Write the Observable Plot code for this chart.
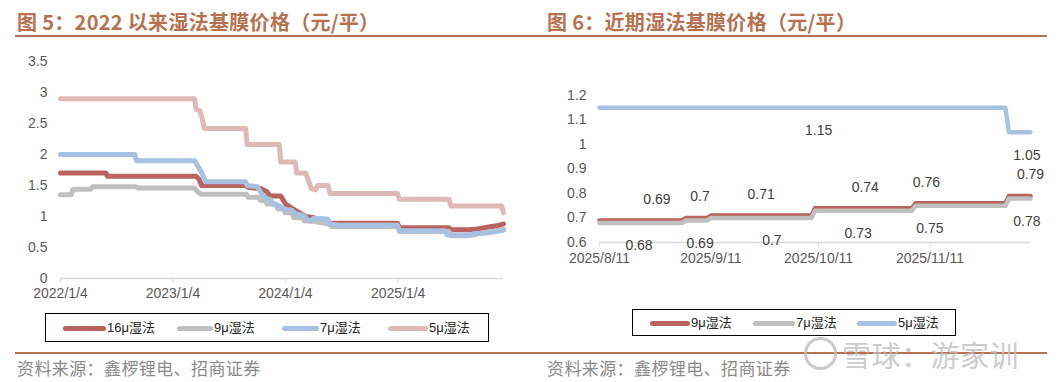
<!DOCTYPE html>
<html><head><meta charset="utf-8">
<script src="https://cdn.jsdelivr.net/npm/d3@7"></script>
<script src="https://cdn.jsdelivr.net/npm/@observablehq/plot@0.6"></script>
<style>
body{margin:0;background:#fff;}
#page{position:relative;width:1064px;height:382px;overflow:hidden;font-family:"Liberation Sans",Arial,"Noto Sans CJK SC",sans-serif;background:#fff;}
.title{position:absolute;top:8px;font-family:"Noto Sans CJK SC",sans-serif;font-weight:700;font-size:20px;color:#B8714F;white-space:nowrap;line-height:28px;letter-spacing:0.3px;}
.rule{position:absolute;left:15px;width:1032px;height:2px;background:#B8714F;}
.src{position:absolute;top:357px;font-family:"Noto Sans CJK SC",sans-serif;font-size:17px;color:#8a8a8a;line-height:22px;white-space:nowrap;letter-spacing:0.4px;}
.legend{position:absolute;border:1.5px solid #000;box-sizing:border-box;}
.item{position:absolute;font-size:13px;color:#262626;line-height:14px;white-space:nowrap;font-family:"Liberation Sans",Arial,"Noto Sans CJK SC",sans-serif;}
.sw{position:absolute;height:5px;border-radius:3px;}
.chart{position:absolute;}
.wm{position:absolute;left:842px;top:340px;font-family:"Noto Sans CJK SC",sans-serif;font-size:29px;color:rgba(190,190,190,0.8);white-space:nowrap;line-height:29px;letter-spacing:0.5px;}
.wmlogo{position:absolute;left:804px;top:337px;width:27px;height:27px;border:3px solid rgba(190,190,190,0.8);border-radius:50%;}
</style></head>
<body>
<div id="page">
  <div class="title" style="left:17px">图 5：2022 以来湿法基膜价格（元/平）</div>
  <div class="title" style="left:547px">图 6：近期湿法基膜价格（元/平）</div>
  <div class="rule" style="top:35px"></div>
  <div id="left" class="chart" style="left:0;top:50px"></div>
  <div id="right" class="chart" style="left:530px;top:60px"></div>
  <div class="legend" style="left:45px;top:313px;width:444px;height:29px"></div>
  <div class="legend" style="left:632px;top:309px;width:324px;height:27px"></div>
  <div id="legends"></div>
  <div class="rule" style="top:352px"></div>
  <div class="src" style="left:17px">资料来源：鑫椤锂电、招商证券</div>
  <div class="src" style="left:547px">资料来源：鑫椤锂电、招商证券</div>
  <div class="wmlogo"></div>
  <div class="wm">雪球：游家训</div>
</div>
<script>
// ---------- data: left chart (since 2022) ----------
const leftNames = ["16μ湿法", "9μ湿法", "7μ湿法", "5μ湿法"];
const leftColors = ["#B9625E", "#BFBFBF", "#A7C1E3", "#DDB9B7"];
const leftXTicks = ["2022-01-04", "2023-01-04", "2024-01-04", "2025-01-04"];
const leftYTicks = [0, 0.5, 1, 1.5, 2, 2.5, 3, 3.5];
const leftDomain = ["2022-01-04", "2025-12-12"];

const s16 = [["2022-01-04",1.70],["2022-06-01",1.70],["2022-06-05",1.65],["2023-03-20",1.65],["2023-03-30",1.60],["2023-04-07",1.50],["2023-08-28",1.50],["2023-09-05",1.47],["2023-10-15",1.45],["2023-11-05",1.40],["2023-11-15",1.33],["2023-12-20",1.33],["2024-01-05",1.20],["2024-02-05",1.10],["2024-03-10",1.00],["2024-04-05",0.98],["2024-04-15",0.92],["2024-05-25",0.90],["2024-06-01",0.89],["2025-01-02",0.89],["2025-01-08",0.82],["2025-06-18",0.82],["2025-06-24",0.785],["2025-08-20",0.785],["2025-09-20",0.80],["2025-10-25",0.83],["2025-11-20",0.85],["2025-12-12",0.88]];
const s9 = [["2022-01-04",1.35],["2022-02-08",1.35],["2022-02-14",1.44],["2022-04-12",1.44],["2022-04-18",1.48],["2022-09-05",1.48],["2022-09-12",1.46],["2023-03-15",1.46],["2023-03-25",1.40],["2023-04-05",1.36],["2023-08-30",1.36],["2023-09-05",1.31],["2023-10-10",1.31],["2023-10-15",1.26],["2023-11-01",1.26],["2023-11-05",1.20],["2023-12-05",1.20],["2023-12-10",1.12],["2023-12-28",1.12],["2024-01-03",1.06],["2024-01-25",1.06],["2024-02-01",0.98],["2024-02-28",0.98],["2024-03-05",0.93],["2024-04-10",0.92],["2024-05-25",0.88],["2024-06-01",0.84],["2025-01-02",0.84],["2025-01-08",0.76],["2025-06-18",0.76],["2025-06-24",0.69],["2025-08-20",0.69],["2025-09-10",0.71],["2025-10-10",0.74],["2025-11-10",0.76],["2025-12-12",0.79]];
const s7 = [["2022-01-04",2.0],["2022-09-02",2.0],["2022-09-08",1.9],["2023-03-15",1.9],["2023-03-25",1.82],["2023-04-08",1.70],["2023-04-20",1.56],["2023-08-28",1.56],["2023-09-02",1.50],["2023-10-05",1.48],["2023-10-15",1.40],["2023-10-28",1.30],["2023-11-15",1.28],["2023-11-25",1.20],["2023-12-15",1.17],["2023-12-28",1.12],["2024-01-25",1.10],["2024-02-05",1.05],["2024-03-05",1.01],["2024-03-15",0.95],["2024-03-28",0.93],["2024-04-05",0.97],["2024-05-20",0.96],["2024-05-28",0.88],["2024-06-25",0.86],["2025-01-02",0.86],["2025-01-08",0.77],["2025-06-05",0.77],["2025-06-12",0.70],["2025-08-25",0.70],["2025-09-05",0.72],["2025-10-10",0.73],["2025-11-10",0.75],["2025-12-12",0.78]];
const s5 = [["2022-01-04",2.9],["2023-03-15",2.9],["2023-03-20",2.73],["2023-04-02",2.70],["2023-04-07",2.62],["2023-04-16",2.42],["2023-08-28",2.42],["2023-09-02",2.16],["2023-12-15",2.16],["2023-12-20",1.88],["2024-02-05",1.88],["2024-02-10",1.70],["2024-03-10",1.70],["2024-03-28",1.45],["2024-04-12",1.43],["2024-04-18",1.50],["2024-05-22",1.50],["2024-05-28",1.37],["2025-01-02",1.37],["2025-01-08",1.28],["2025-06-18",1.28],["2025-06-24",1.17],["2025-12-06",1.17],["2025-12-12",1.06]];

// ---------- data: right chart (recent) ----------
const rightNames = ["9μ湿法", "7μ湿法", "5μ湿法"];
const rightColors = ["#B9625E", "#BFBFBF", "#A7C1E3"];
const rightXTicks = ["2025-08-11", "2025-09-11", "2025-10-11", "2025-11-11"];
const rightYTicks = [0.6, 0.7, 0.8, 0.9, 1.0, 1.1, 1.2];
const rightDomain = ["2025-08-11", "2025-12-09"];

const r9 = [["2025-08-11",0.69],["2025-09-03",0.69],["2025-09-04",0.70],["2025-09-10",0.70],["2025-09-11",0.71],["2025-10-09",0.71],["2025-10-10",0.74],["2025-11-06",0.74],["2025-11-07",0.76],["2025-12-02",0.76],["2025-12-03",0.79],["2025-12-09",0.79]];
const r7 = [["2025-08-11",0.68],["2025-09-03",0.68],["2025-09-04",0.69],["2025-09-10",0.69],["2025-09-11",0.70],["2025-10-09",0.70],["2025-10-10",0.73],["2025-11-06",0.73],["2025-11-07",0.75],["2025-12-02",0.75],["2025-12-03",0.78],["2025-12-09",0.78]];
const r5 = [["2025-08-11",1.15],["2025-12-02",1.15],["2025-12-03",1.05],["2025-12-09",1.05]];

// data labels (anchor date, value)
const r9Labels = [["2025-08-27",0.69],["2025-09-08",0.70],["2025-09-25",0.71],["2025-10-24",0.74],["2025-11-10",0.76],["2025-12-09",0.79]];
const r7Labels = [["2025-08-22",0.68],["2025-09-08",0.69],["2025-09-28",0.70],["2025-10-22",0.73],["2025-11-11",0.75],["2025-12-08",0.78]];
const r5Labels = [["2025-10-11",1.15],["2025-12-08",1.05]];

// ---------- helpers ----------
const parse = d3.utcParse("%Y-%m-%d");
const rows = pairs => pairs.map(([d, v]) => ({date: parse(d), value: v}));
const fmtDate = d => `${d.getUTCFullYear()}/${d.getUTCMonth() + 1}/${d.getUTCDate()}`;
const fmtNum = d => String(+d.toFixed(2));
const style = {fontFamily: '"Liberation Sans", Arial, sans-serif', fontSize: "14px", color: "#595959", background: "transparent", overflow: "visible"};

// ---------- left chart ----------
const leftSeries = [s16, s9, s7, s5];
const leftPlot = Plot.plot({
  width: 530, height: 255,
  marginLeft: 60, marginRight: 27, marginTop: 11, marginBottom: 27,
  style,
  x: {type: "utc", domain: leftDomain.map(parse)},
  y: {domain: [0, 3.5]},
  marks: [
    Plot.ruleY([0], {stroke: "#D9D9D9", strokeWidth: 1.5}),
    Plot.axisX(leftXTicks.map(parse), {tickSize: 5, tickPadding: 5, stroke: "#D9D9D9", fill: "#595959", tickFormat: fmtDate, label: null, fontSize: 14}),
    Plot.axisY(leftYTicks, {tickSize: 0, tickPadding: 13, fill: "#595959", tickFormat: fmtNum, label: null, fontSize: 14}),
    ...leftSeries.map((s, i) => Plot.line(rows(s), {x: "date", y: "value", stroke: leftColors[i], strokeWidth: 5, strokeLinejoin: "round", strokeLinecap: "round"}))
  ]
});
document.getElementById("left").append(leftPlot);

// ---------- right chart ----------
const rightSeries = [r9, r7, r5];
const labelFont = {fontSize: 14, fill: "#404040"};
const rightPlot = Plot.plot({
  width: 534, height: 215,
  marginLeft: 69, marginRight: 34, marginTop: 35, marginBottom: 33,
  style,
  x: {type: "utc", domain: rightDomain.map(parse)},
  y: {domain: [0.6, 1.2]},
  marks: [
    Plot.ruleY([0.6], {stroke: "#D9D9D9", strokeWidth: 1.5}),
    Plot.axisX(rightXTicks.map(parse), {tickSize: 5, tickPadding: 6, stroke: "#D9D9D9", fill: "#595959", tickFormat: fmtDate, label: null, fontSize: 14}),
    Plot.axisY(rightYTicks, {tickSize: 0, tickPadding: 13, fill: "#595959", tickFormat: fmtNum, label: null, fontSize: 14}),
    ...rightSeries.map((s, i) => Plot.line(rows(s), {x: "date", y: "value", stroke: rightColors[i], strokeWidth: 4.5, strokeLinejoin: "round", strokeLinecap: "round"})),
    Plot.text(rows(r9Labels), {x: "date", y: "value", text: d => fmtNum(d.value), dy: -21, ...labelFont}),
    Plot.text(rows(r7Labels), {x: "date", y: "value", text: d => fmtNum(d.value), dy: 23, ...labelFont}),
    Plot.text(rows(r5Labels), {x: "date", y: "value", text: d => fmtNum(d.value), dy: 23, ...labelFont})
  ]
});
document.getElementById("right").append(rightPlot);

// ---------- legends ----------
const leg = document.getElementById("legends");
function legend(names, colors, swatches, cy) {
  names.forEach((n, i) => {
    const [x0, x1] = swatches[i];
    const sw = document.createElement("div");
    sw.className = "sw";
    sw.style.cssText = `left:${x0}px;width:${x1 - x0}px;top:${cy - 2.5}px;background:${colors[i]}`;
    const t = document.createElement("div");
    t.className = "item";
    t.style.cssText = `left:${x1 + 1}px;top:${cy - 7}px`;
    t.textContent = n;
    leg.append(sw, t);
  });
}
legend(leftNames, leftColors, [[63,106],[177,213],[282,319],[388,428]], 328);
legend(rightNames, rightColors, [[650,690],[753,795],[857,897]], 323);
</script>
</body></html>
